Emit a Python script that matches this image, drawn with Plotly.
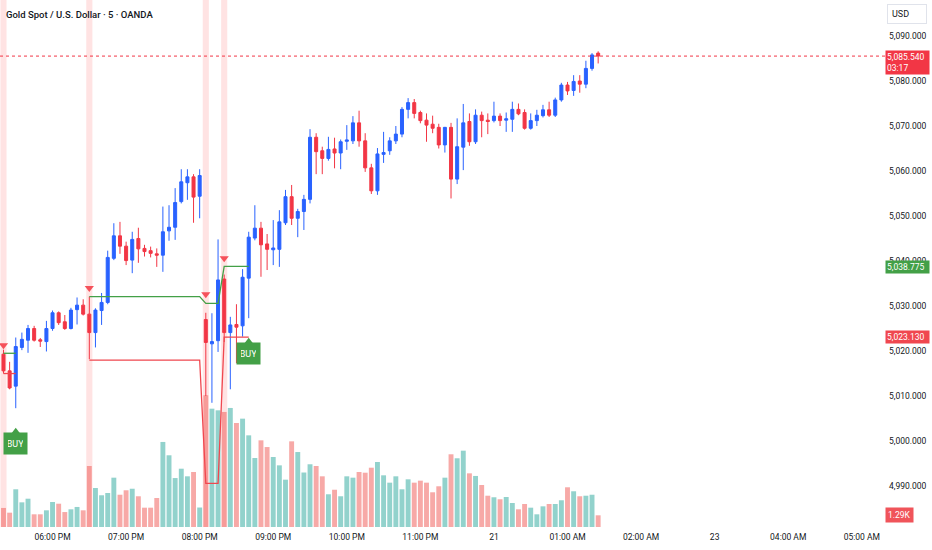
import plotly.graph_objects as go

# 5-minute bars, index 0 = 17:20 (05:20 PM)
opens = [5019.3, 5015.6, 5012.2, 5020.8, 5022.4, 5025.0, 5022.5, 5022.1, 5025.0, 5028.5,
         5026.5, 5025.0, 5029.2, 5030.2, 5028.2, 5024.1, 5029.0, 5030.8, 5040.6, 5045.6,
         5043.3, 5040.2, 5045.0, 5042.8, 5042.3, 5041.6, 5041.3, 5046.7, 5047.5, 5053.2,
         5057.4, 5058.7, 5054.4, 5027.0, 5021.6, 5022.3, 5036.0, 5024.1, 5025.9, 5025.6,
         5036.2, 5045.1, 5047.3, 5043.8, 5042.5, 5042.6, 5048.5, 5054.3, 5049.5, 5051.0,
         5053.7, 5067.5, 5064.5, 5062.8, 5064.9, 5064.0, 5066.6, 5066.7, 5070.7, 5066.7,
         5060.7, 5055.6, 5063.7, 5064.5, 5066.7, 5068.2, 5073.7, 5075.2, 5073.0, 5071.3,
         5070.4, 5069.7, 5065.8, 5069.7, 5058.2, 5065.3, 5071.0, 5066.5, 5072.4, 5071.3,
         5071.2, 5072.2, 5071.3, 5071.5, 5073.7, 5073.0, 5069.5, 5071.2, 5072.3, 5073.6,
         5072.4, 5075.8, 5079.1, 5077.9, 5080.0, 5079.3, 5082.8, 5086.2]
highs = [5020.3, 5017.6, 5023.0, 5024.1, 5025.8, 5025.6, 5022.9, 5026.7, 5029.0, 5028.8,
         5028.0, 5029.6, 5031.9, 5031.5, 5032.1, 5029.5, 5032.9, 5042.3, 5048.4, 5048.7,
         5044.3, 5046.5, 5047.4, 5043.6, 5043.2, 5042.8, 5052.1, 5052.4, 5056.2, 5060.4,
         5060.4, 5059.3, 5060.4, 5028.5, 5028.4, 5044.8, 5037.0, 5027.6, 5030.4, 5038.2,
         5046.5, 5052.4, 5048.7, 5046.0, 5049.1, 5051.3, 5055.8, 5056.9, 5051.6, 5054.7,
         5069.3, 5068.4, 5065.4, 5067.6, 5067.4, 5067.0, 5070.2, 5072.2, 5073.4, 5068.4,
         5061.6, 5065.1, 5068.7, 5067.5, 5070.0, 5074.2, 5076.2, 5076.0, 5073.4, 5072.8,
         5072.3, 5070.5, 5069.8, 5070.7, 5071.7, 5074.9, 5072.8, 5073.7, 5073.2, 5072.8,
         5075.4, 5072.8, 5073.0, 5075.4, 5075.0, 5073.7, 5072.8, 5073.6, 5074.7, 5075.4,
         5076.3, 5079.6, 5079.8, 5081.3, 5081.3, 5084.5, 5086.2, 5086.6]
lows = [5015.0, 5011.5, 5007.3, 5020.2, 5019.6, 5022.1, 5020.9, 5019.9, 5024.5, 5025.8,
        5024.7, 5024.8, 5025.9, 5027.9, 5018.2, 5020.8, 5025.8, 5030.4, 5040.2, 5041.6,
        5039.1, 5037.3, 5039.6, 5041.0, 5040.8, 5038.7, 5037.6, 5044.5, 5044.7, 5052.8,
        5053.6, 5048.5, 5049.5, 5010.0, 5008.5, 5019.8, 5022.0, 5011.5, 5017.3, 5023.2,
        5027.3, 5044.6, 5036.5, 5038.0, 5039.1, 5038.7, 5048.0, 5048.0, 5045.3, 5046.9,
        5052.8, 5059.3, 5059.3, 5062.3, 5060.6, 5060.4, 5064.7, 5066.0, 5065.4, 5059.8,
        5054.9, 5054.7, 5061.8, 5063.6, 5066.0, 5067.5, 5071.7, 5071.7, 5070.6, 5066.5,
        5068.4, 5065.0, 5064.1, 5053.9, 5057.1, 5060.2, 5065.6, 5066.0, 5067.5, 5068.2,
        5070.8, 5070.0, 5068.7, 5068.7, 5072.4, 5069.2, 5069.2, 5070.0, 5071.9, 5072.0,
        5072.0, 5075.4, 5076.9, 5076.7, 5077.4, 5078.4, 5082.3, 5083.9]
closes = [5015.6, 5011.8, 5021.0, 5022.6, 5025.0, 5022.4, 5022.2, 5025.0, 5028.5, 5026.3,
          5025.0, 5029.1, 5030.2, 5028.2, 5024.1, 5029.1, 5030.8, 5040.8, 5045.6, 5043.3,
          5040.1, 5044.8, 5042.7, 5042.1, 5041.7, 5041.3, 5046.5, 5047.5, 5053.0, 5057.6,
          5058.7, 5054.2, 5059.0, 5021.9, 5022.1, 5035.8, 5024.1, 5025.8, 5025.3, 5036.4,
          5045.3, 5047.3, 5043.6, 5042.6, 5042.9, 5048.7, 5054.3, 5049.5, 5051.0, 5053.7,
          5067.5, 5064.3, 5062.8, 5064.8, 5064.0, 5066.5, 5066.9, 5070.7, 5066.7, 5060.7,
          5055.6, 5063.8, 5064.1, 5066.7, 5068.2, 5073.7, 5075.2, 5072.8, 5071.2, 5070.2,
          5069.5, 5065.8, 5069.7, 5058.2, 5065.4, 5070.7, 5066.5, 5072.4, 5071.2, 5071.0,
          5072.2, 5071.2, 5071.6, 5073.7, 5072.7, 5069.5, 5071.2, 5072.4, 5073.6, 5072.4,
          5075.8, 5079.1, 5077.8, 5079.9, 5079.3, 5082.8, 5085.8, 5085.54]
volumes = [2100, 1580, 4160, 2720, 3120, 1400, 1400, 1840, 2760, 2570,
           1650, 1950, 2210, 1840, 6730, 4300, 3500, 3750, 5440, 3560,
           4050, 4220, 3390, 2130, 2130, 3200, 9380, 7910, 5400, 6430,
           5590, 6070, 2150, 14530, 13050, 12870, 12690, 13130, 11470, 11950,
           10110, 7610, 9560, 8820, 7720, 6800, 5220, 9450, 8270, 6010,
           6920, 6730, 5590, 3610, 4110, 3390, 5590, 5440, 6070, 5990,
           6540, 7170, 5700, 4890, 5590, 4160, 5260, 4890, 5110, 4890,
           3830, 4490, 5440, 8020, 7580, 8420, 5920, 5630, 4630, 3450,
           3280, 3060, 3310, 2650, 1950, 2540, 2130, 1400, 2280, 2540,
           2540, 2950, 4380, 3940, 3390, 3450, 3560, 1290]

# indicator lines (None = not drawn)
N = None
upper_line = ([5019.5] * 3 + [N] * 11 + [5032.1] * 19 + [5030.6] * 3 + [5038.8] * 5
              + [N] * 57)
lower_line = ([5015.0] * 3 + [N] * 11 + [5018.0] * 19 + [4990.6] * 3 + [5023.1] * 5
              + [N] * 57)

sell_idx = [0, 14, 33, 36]
sell_price = [5021.3, 5034.0, 5032.6, 5040.6]
buy_idx = [2, 40]
buy_price = [5002.2, 5022.2]   # tip of the BUY label

tick_idx = [8, 20, 32, 44, 56, 68, 80, 92, 104, 116, 128, 140]
tick_text = ["06:00 PM", "07:00 PM", "08:00 PM", "09:00 PM", "10:00 PM", "11:00 PM",
             "21", "01:00 AM", "02:00 AM", "23", "04:00 AM", "05:00 AM"]
price_ticks = [4990, 5000, 5010, 5020, 5030, 5040, 5050, 5060, 5070, 5080, 5090]

last_price = 5085.54
upper_last = 5038.775
lower_last = 5023.130

UP = "#2962ff"
DOWN = "#f23645"
FONT = "Roboto"
x = list(range(len(opens)))

vol_colors = ["rgba(38,166,154,0.5)" if c >= o else "rgba(239,83,80,0.5)"
              for o, c in zip(opens, closes)]

fig = go.Figure()

fig.add_trace(go.Bar(x=x, y=volumes, marker_color=vol_colors, marker_line_width=0,
                     yaxis="y", hoverinfo="skip"))

fig.add_trace(go.Candlestick(
    x=x, open=opens, high=highs, low=lows, close=closes, yaxis="y2",
    increasing=dict(line=dict(color=UP, width=1), fillcolor=UP),
    decreasing=dict(line=dict(color=DOWN, width=1), fillcolor=DOWN),
    whiskerwidth=0,
))

fig.add_trace(go.Scatter(x=x, y=upper_line, mode="lines", yaxis="y2",
                         line=dict(color="#43a047", width=1.3), connectgaps=False))
fig.add_trace(go.Scatter(x=x, y=lower_line, mode="lines", yaxis="y2",
                         line=dict(color="#f0474f", width=1.3), connectgaps=False))

# sell signals
fig.add_trace(go.Scatter(x=sell_idx, y=sell_price, mode="markers", yaxis="y2",
                         marker=dict(symbol="triangle-down", size=8, color="#f5515a")))

# BUY labels
fig.add_trace(go.Scatter(x=buy_idx, y=buy_price, mode="markers", yaxis="y2",
                         marker=dict(symbol="triangle-up", size=7, color="#43a047"),
                         marker_line_width=0))
for bi, bp in zip(buy_idx, buy_price):
    fig.add_annotation(x=bi, y=bp, xref="x", yref="y2", text="BUY", showarrow=False,
                       yshift=-12, bgcolor="#43a047", borderpad=4, width=15, height=13,
                       font=dict(family=FONT, size=9, color="white"))

# signal bands
for si in sell_idx:
    fig.add_shape(type="rect", xref="x", yref="paper", x0=si - 0.5, x1=si + 0.5,
                  y0=0, y1=1, fillcolor="rgba(255,82,82,0.16)", line_width=0,
                  layer="below")

# last price dotted line
fig.add_shape(type="line", xref="paper", yref="y2", x0=0, x1=1.004,
              y0=last_price, y1=last_price,
              line=dict(color=DOWN, width=1, dash="dot"))

# price scale tags
TAG = dict(family=FONT, size=8.5, color="white")
fig.add_annotation(xref="paper", yref="y2", x=1, y=last_price, xanchor="left",
                   yanchor="top", yshift=6, xshift=3, showarrow=False, align="left",
                   text=f"{last_price:,.3f}<br>03:17", bgcolor=DOWN, borderpad=1,
                   width=41, font=TAG)
fig.add_annotation(xref="paper", yref="y2", x=1, y=upper_last, xanchor="left",
                   yanchor="middle", xshift=3, showarrow=False, align="left",
                   text=f"{upper_last:,.3f}", bgcolor="#43a047", borderpad=1,
                   width=41, font=TAG)
fig.add_annotation(xref="paper", yref="y2", x=1, y=lower_last, xanchor="left",
                   yanchor="middle", xshift=3, showarrow=False, align="left",
                   text=f"{lower_last:,.3f}", bgcolor="#f0474f", borderpad=1,
                   width=41, font=TAG)
fig.add_annotation(xref="paper", yref="y", x=1, y=volumes[-1], xanchor="left",
                   yanchor="middle", xshift=3, showarrow=False, align="left",
                   text=f"{volumes[-1] / 1000:.2f}K", bgcolor="#f0545a", borderpad=2,
                   font=TAG)
fig.add_annotation(xref="paper", yref="paper", x=1, y=1, xanchor="left",
                   yanchor="top", xshift=5, yshift=-4, showarrow=False, align="left",
                   text="USD", bgcolor="white", bordercolor="#e0e3eb", borderwidth=1,
                   borderpad=4, width=30, font=dict(family=FONT, size=9, color="#131722"))

fig.add_annotation(xref="paper", yref="paper", x=0, y=1, xanchor="left", yanchor="top",
                   xshift=4, yshift=-7, showarrow=False,
                   text="Gold Spot / U.S. Dollar · 5 · OANDA",
                   font=dict(family=FONT, size=9.5, color="#131722", weight=500))

fig.update_layout(
    width=932, height=550,
    margin=dict(l=0, r=50, t=0, b=23),
    paper_bgcolor="white", plot_bgcolor="white",
    showlegend=False,
    bargap=0.2,
    font=dict(family=FONT, size=9, color="#131722"),
    xaxis=dict(range=[-0.57, 143.3], tickmode="array", tickvals=tick_idx,
               ticktext=tick_text, showgrid=False, zeroline=False, showline=False,
               ticks="", rangeslider=dict(visible=False), ticklabelstandoff=3,
               tickfont=dict(family=FONT, size=8.5, color="#131722")),
    yaxis=dict(range=[0, 58130], visible=False, fixedrange=True),
    yaxis2=dict(overlaying="y", side="right", range=[4980.9, 5098.0],
                tickmode="array", tickvals=price_ticks, tickformat=",.3f",
                showgrid=False, zeroline=False, showline=False, ticks="",
                ticklabelstandoff=6, automargin=False,
                tickfont=dict(family=FONT, size=8.5, color="#131722")),
)

# the page body has a default 8px margin; drop it so the chart sits at the corner
fig.write_html("out.html", config={"displayModeBar": False},
               post_script="document.body.style.margin='0';")
